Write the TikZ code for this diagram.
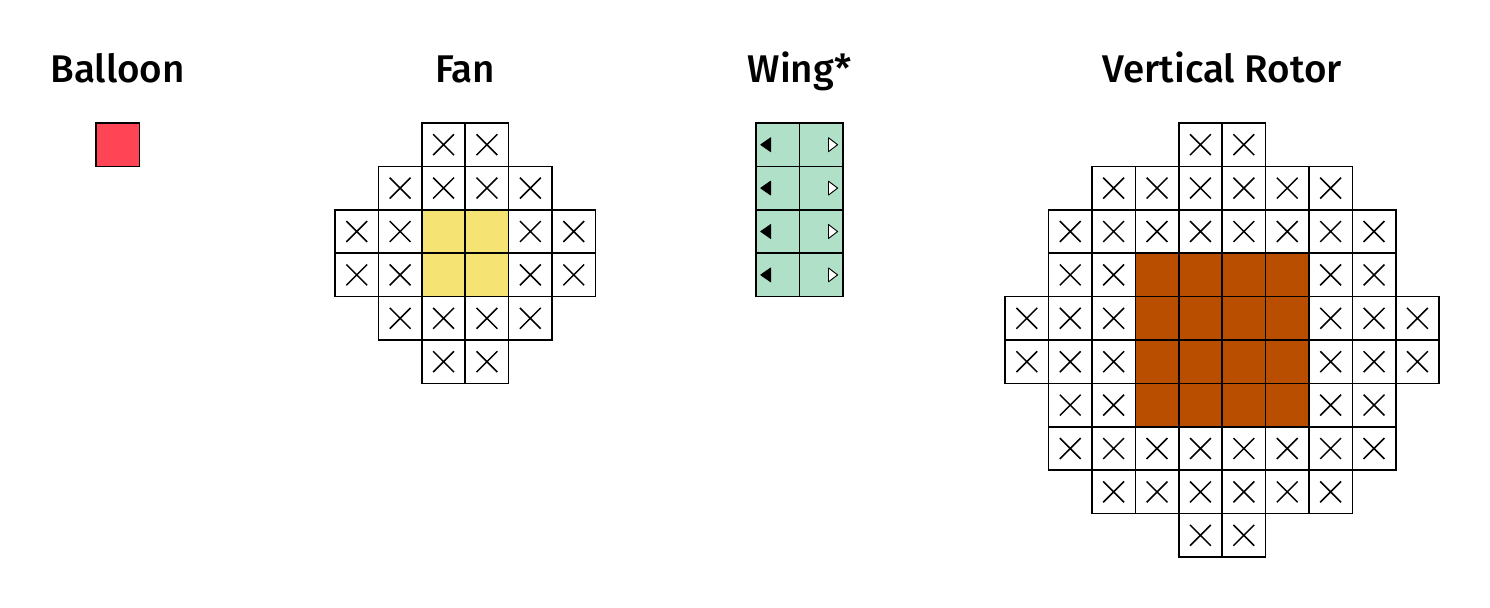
\documentclass[tikz,border=0pt]{standalone}
\usepackage{fontspec}
\setmainfont{Fira Sans}[BoldFont={Fira Sans Medium}]
\definecolor{balloonred}{RGB}{255,68,85}
\definecolor{fanyellow}{RGB}{245,228,115}
\definecolor{winggreen}{RGB}{176,224,200}
\definecolor{rotorbrown}{RGB}{186,78,0}
\tikzset{
  cell/.style={draw=black, line width=1pt, minimum size=1cm, inner sep=0pt, outer sep=0pt},
  xcell/.style={cell, fill=white, path picture={
    \draw[line width=1pt] (path picture bounding box.center) +(-0.24,-0.24) -- +(0.24,0.24)
      +(-0.24,0.24) -- +(0.24,-0.24);}},
  title/.style={font=\fontsize{25.3}{29}\selectfont\bfseries, anchor=base}
}
\begin{document}
\begin{tikzpicture}[x=1cm, y=-1cm]
  \useasboundingbox (0,0) rectangle (34.332,14.009);
  % titles
  \node[title] (balloon-title) at (2.71,1.89) {Balloon};
  \node[title] (fan-title) at (10.72,1.89) {Fan};
  \node[title] (wing-title) at (18.42,1.89) {Wing*};
  \node[title] (rotor-title) at (28.16,1.89) {Vertical Rotor};
  % balloon
  \node[cell, fill=balloonred] (balloon) at (2.71,3.334) {};
  % fan
  \foreach \r/\cols in {0/{2,3}, 1/{1,2,3,4}, 2/{0,1,4,5}, 3/{0,1,4,5}, 4/{1,2,3,4}, 5/{2,3}}
    \foreach \c in \cols
      \node[xcell] (fan-\r-\c) at (8.22+\c,3.334+\r) {};
  \foreach \r in {2,3}
    \foreach \c in {2,3}
      \node[cell, fill=fanyellow] (fan-\r-\c) at (8.22+\c,3.334+\r) {};
  % wing
  \foreach \r in {0,...,3} {
    \node[cell, fill=winggreen] (wing-\r-0) at (17.92,3.334+\r) {};
    \node[cell, fill=winggreen] (wing-\r-1) at (18.92,3.334+\r) {};
    \draw[fill=black, line width=0.6pt, line join=round] ([xshift=0.11cm]wing-\r-0.west)
      -- ++(0.23,-0.16) -- ++(0,0.32) -- cycle;
    \draw[fill=white, line width=0.6pt, line join=round] ([xshift=-0.12cm]wing-\r-1.east)
      -- ++(-0.21,-0.16) -- ++(0,0.32) -- cycle;
  }
  % vertical rotor
  \foreach \r/\cols in {0/{4,5}, 1/{2,...,7}, 2/{1,...,8}, 3/{1,2,7,8}, 4/{0,1,2,7,8,9},
      5/{0,1,2,7,8,9}, 6/{1,2,7,8}, 7/{1,...,8}, 8/{2,...,7}, 9/{4,5}}
    \foreach \c in \cols
      \node[xcell] (rotor-\r-\c) at (23.66+\c,3.334+\r) {};
  \foreach \r in {3,...,6}
    \foreach \c in {3,...,6}
      \node[cell, fill=rotorbrown] (rotor-\r-\c) at (23.66+\c,3.334+\r) {};
\end{tikzpicture}
\end{document}
